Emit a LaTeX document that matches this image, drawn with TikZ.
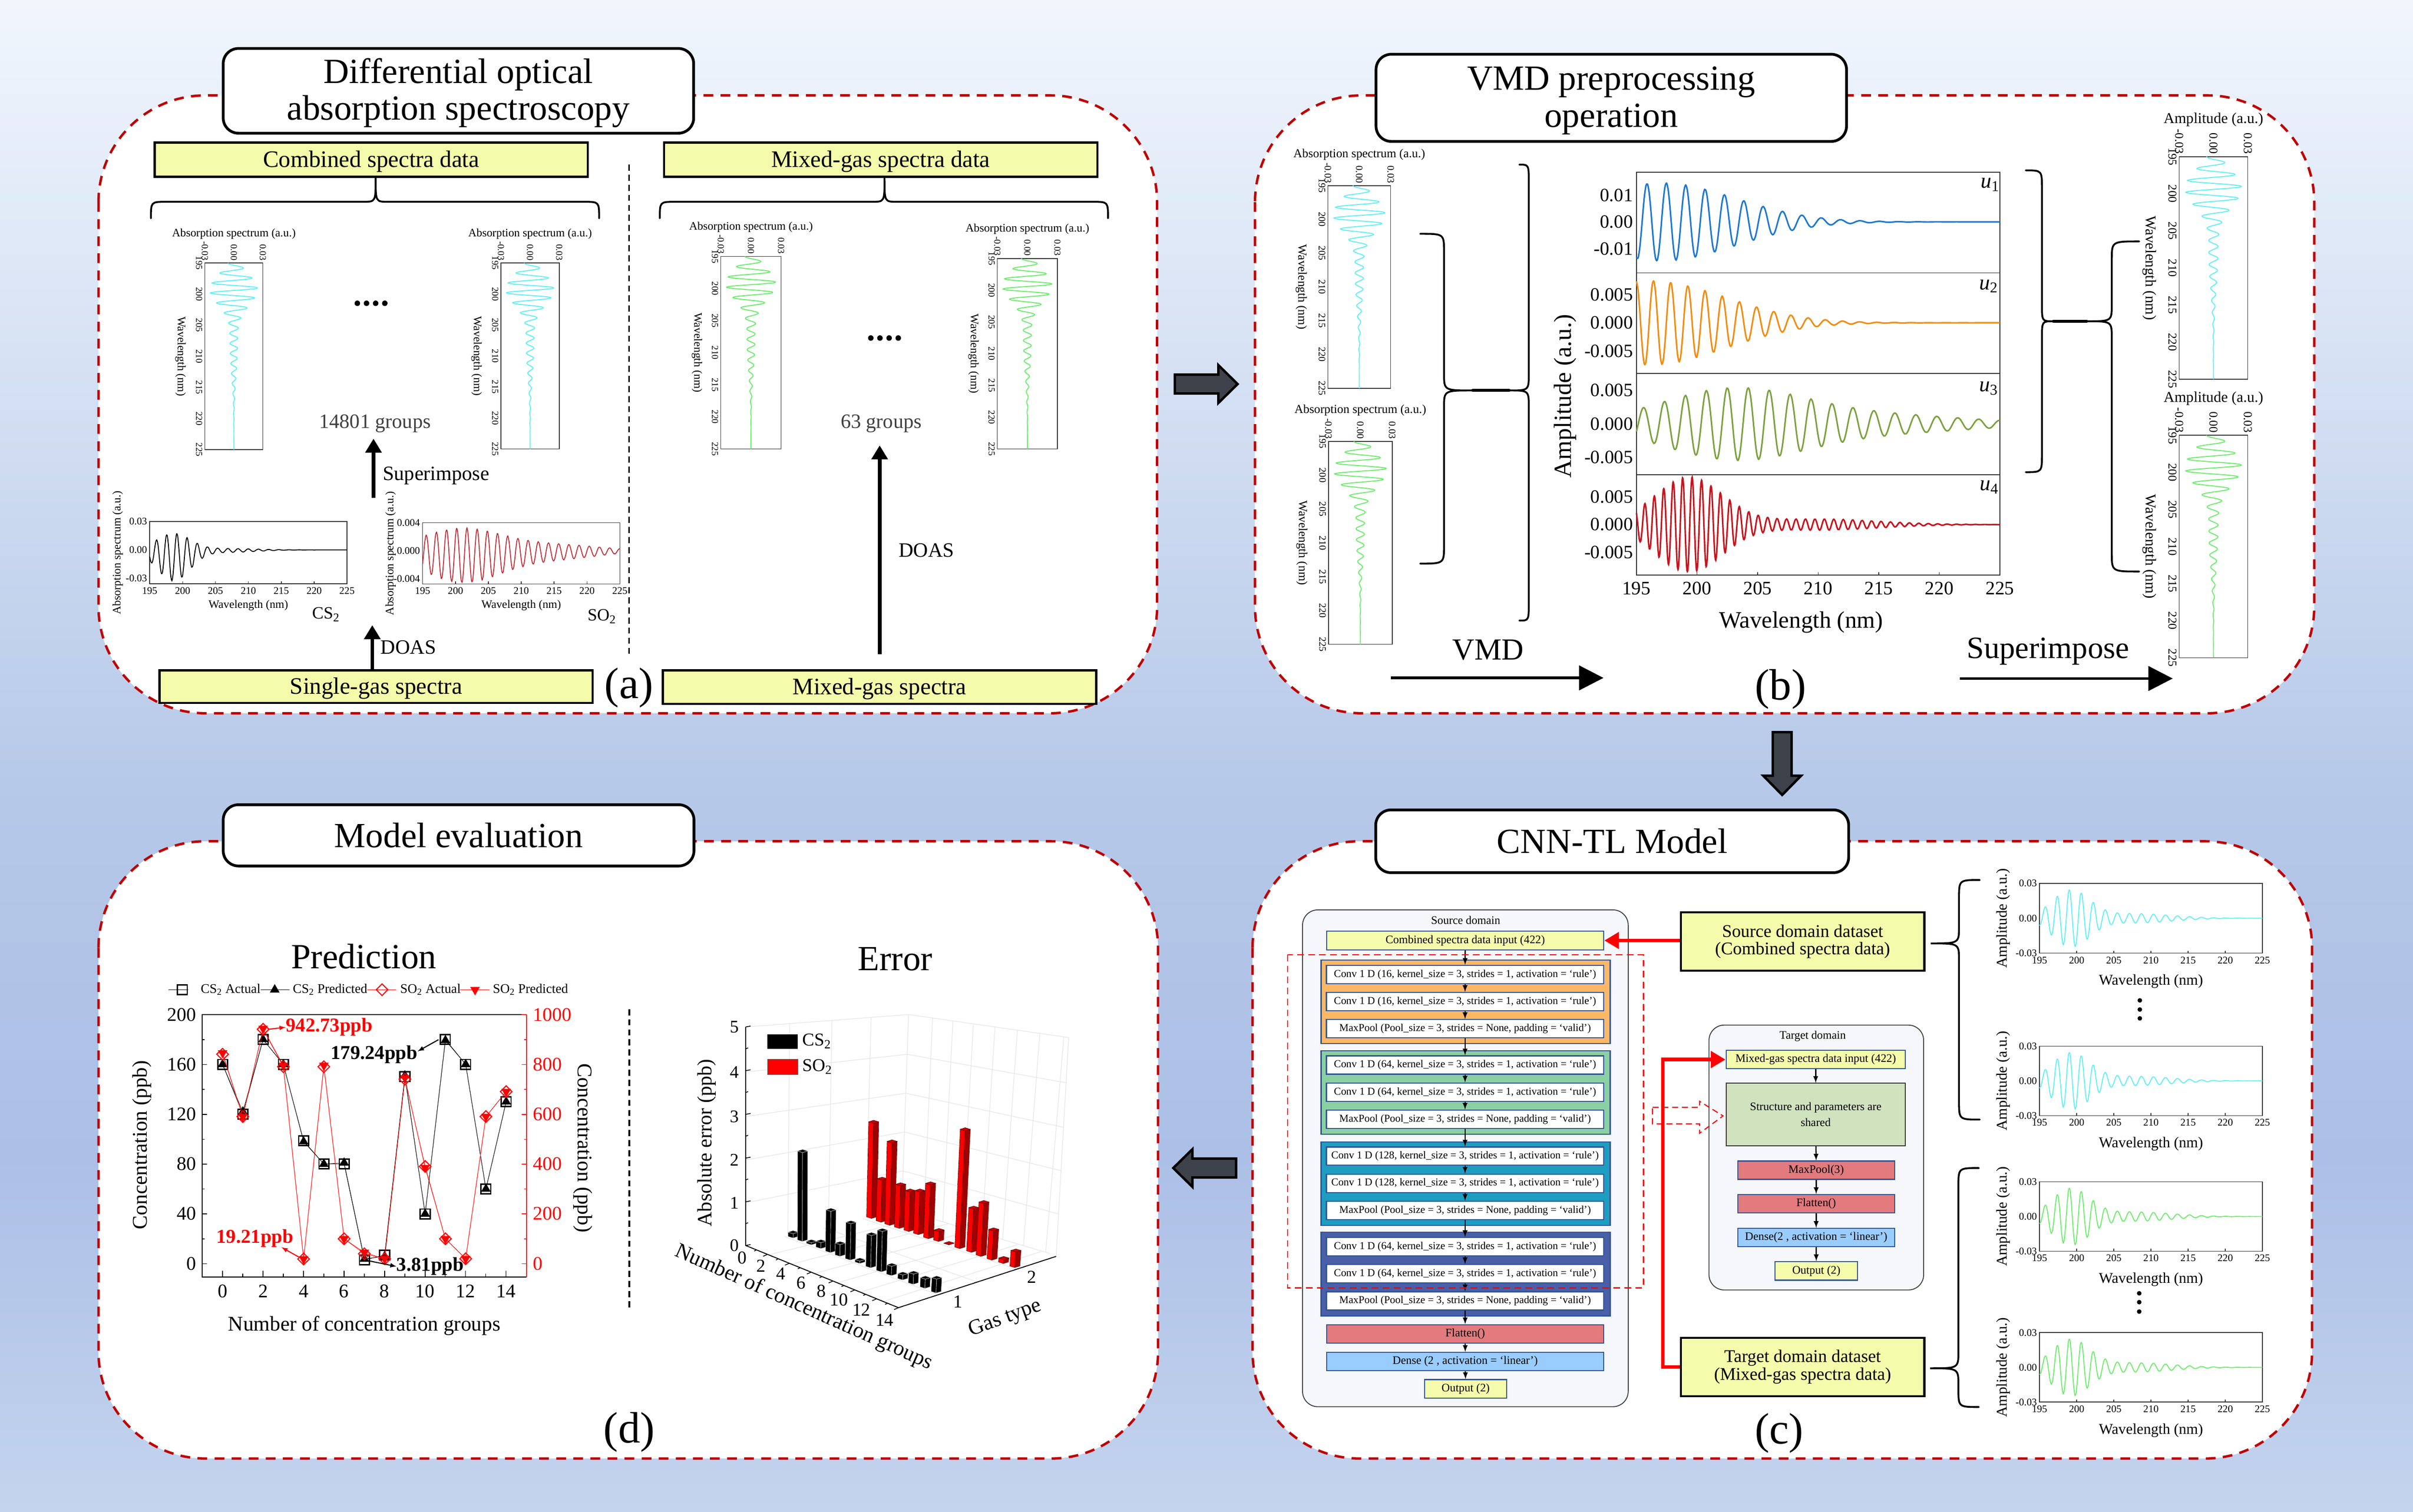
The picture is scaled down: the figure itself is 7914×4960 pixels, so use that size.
\documentclass[tikz,border=0pt]{standalone}
\usepackage{fontspec}
\setmainfont{Liberation Serif}
\usepackage{tikz}
\usetikzlibrary{calc,arrows,arrows.meta,plotmarks}

\definecolor{paneltop}{HTML}{F1F6FD}
\definecolor{panelhigh}{HTML}{B5C8E8}
\definecolor{panelmid}{HTML}{ACBFE6}
\definecolor{panellow}{HTML}{C4D4EE}
\definecolor{panelred}{HTML}{C00000}
\definecolor{blockdark}{HTML}{3E424A}
\definecolor{boxyellow}{HTML}{F4FBAA}
\definecolor{layerline}{HTML}{2F5597}
\definecolor{domainfill}{HTML}{F5F7FB}
\definecolor{blockorange}{HTML}{FDB765}
\definecolor{blockgreen}{HTML}{8BD0A0}
\definecolor{blockteal}{HTML}{1E9DC0}
\definecolor{blocknavy}{HTML}{4A5FA8}
\definecolor{layerred}{HTML}{E27A7E}
\definecolor{layerblue}{HTML}{99CCFF}
\definecolor{sharedgreen}{HTML}{D0E2BE}
\definecolor{speccyan}{HTML}{5CF0F5}
\definecolor{specgreen}{HTML}{66EE66}
\definecolor{sodark}{HTML}{C0303A}
\definecolor{modeblue}{HTML}{1F78D2}
\definecolor{modeorange}{HTML}{F28C0F}
\definecolor{modegreen}{HTML}{7BA23F}
\definecolor{modered}{HTML}{C8141E}
\definecolor{barside}{HTML}{A00000}
\definecolor{bartop}{HTML}{D00000}
\definecolor{gridgray}{HTML}{E6E6E6}

\newcommand{\fsz}[1]{\fontsize{#1}{#1}\selectfont}

\tikzset{
	declare function={
		gauss(\lam,\c,\s)=exp(-(\lam-\c)*(\lam-\c)/(\s*\s));
		spec(\lam)=(2.4*gauss(\lam,199.2,3.6)+.4*gauss(\lam,208,7))*sin(360*(\lam-198.6)/1.62);
		cstwo(\lam)=(2.5*gauss(\lam,198.6,3.6)+.2*gauss(\lam,207,6))*(sin(360*(\lam-197.2)/1.55)-.3);
		sotwo(\lam)=(2.9*gauss(\lam,201,9)+.7*gauss(\lam,216,9))*(sin(360*(\lam-199.81)/1.55)-.17);
		uone(\lam)=1.45*gauss(\lam,197,8.8)*sin(360*(\lam-195.47)/1.6);
		utwo(\lam)=.75*gauss(\lam,196,9)*sin(360*(\lam-196.05)/1.42);
		uthree(\lam)=(.52*gauss(\lam,203,8.5)+.12*gauss(\lam,216,10))*sin(360*(\lam-202.07)/1.73);
		ufour(\lam)=(.85*gauss(\lam,199.3,4)+.1*gauss(\lam,210,7))*sin(360*(\lam-199.4)/.78);
	},
	panelbox/.style={draw=panelred,fill=white,line width=.08cm,dash pattern=on .32cm off .24cm,rounded corners=3.5cm},
	titlebox/.style={draw=black,fill=white,line width=.09cm,rounded corners=.5cm,align=center,font=\fontsize{33}{34.5}\selectfont,inner sep=0},
	yellowbox/.style={draw=black,fill=boxyellow,line width=.07cm,align=center,inner sep=0,execute at begin node={\rule{0pt}{.85em}}},
	domainbox/.style={draw=black!75,fill=domainfill,line width=.03cm,rounded corners=.5cm},
	layerbox/.style={draw=layerline,fill=white,line width=.035cm,inner sep=0,font=\fsz{10.7}},
	rowbox/.style={layerbox,font=\fsz{9.85},minimum width=9.09cm,minimum height=.6cm},
	layerarrow/.style={->,>=latex,line width=.04cm},
	bigarrow/.style={-{Triangle[length=.46cm,width=.52cm]},line width=.12cm},
	vmdarrow/.style={-{Triangle[length=.8cm,width=.8cm]},line width=.09cm},
	redarrow/.style={-{Triangle[length=.48cm,width=.53cm]},draw=red,line width=.12cm},
	bracestyle/.style={line width=.06cm,line cap=round},
	specframe/.style={draw=black!80,line width=.025cm},
	speccurve/.style={line width=.03cm},
	panellabel/.style={font=\fsz{41},inner sep=0},
	midrule/.style={line width=.06cm,dash pattern=on .2cm off .13cm},
	blockshape/.style={draw=black,line width=.08cm,fill=blockdark,line join=miter},
	databk/.style={black,line width=.012cm},
	datard/.style={red,line width=.012cm},
	notebk/.style={->,>=latex,line width=.035cm,black},
	notered/.style={->,>=latex,line width=.035cm,red},
	axistick/.style={line width=.025cm},
	marksq/.style={mark=square,mark size=.16cm,mark options={line width=.045cm}},
	marktri/.style={mark=triangle*,mark size=.17cm},
	markdia/.style={mark=square,mark size=.135cm,mark options={red,rotate=45,line width=.035cm}},
	markinv/.style={mark=triangle*,mark size=.17cm,mark options={red,fill=red,rotate=180}},
}

% box given by its two corners
\newcommand{\cbox}[7]{\node[#1,minimum width={(#5-#3)*.01cm},minimum height={(#6-#4)*.01cm}] (#2) at ({(#3+#5)/2},{(#4+#6)/2}) {#7};}

% spectrum turned on its side
\newcommand{\vspec}[9]{
	\pgfmathsetmacro{\xm}{(#2+#4)/2}
	\pgfmathsetmacro{\kx}{(#4-#2)/6}
	\pgfmathsetmacro{\ky}{(#5-#3)/30}
	\pgfmathsetmacro{\tsize}{.8*#9}
	\pgfmathsetmacro{\tly}{#3-7.5*#9-16}
	\draw[specframe] (#2,#3) rectangle (#4,#5);
	\draw[speccurve,color=#6,domain=195:225,samples=170,smooth,variable=\lam] plot ({\xm+\kx*spec(\lam)},{#3+\ky*(\lam-195)});
	\node[font=\fsz{#9},inner sep=0] (#1t) at (\xm,\tly) {#7};
	\node[font=\fsz{#9},inner sep=0,rotate=-90] (#1w) at ({#2-#8},{(#3+#5)/2}) {Wavelength (nm)};
	\node[font=\fsz{\tsize},inner sep=0,rotate=-90,anchor=east] (#1a) at (#2,{#3-8}) {-0.03};
	\node[font=\fsz{\tsize},inner sep=0,rotate=-90,anchor=east] (#1b) at (\xm,{#3-8}) {0.00};
	\node[font=\fsz{\tsize},inner sep=0,rotate=-90,anchor=east] (#1c) at (#4,{#3-8}) {0.03};
	\foreach \wl [count=\i from 0] in {195,200,...,225}
		\node[font=\fsz{\tsize},inner sep=0,rotate=-90,anchor=north] (#1y\wl) at ({#2-8},{#3+\ky*5*\i}) {\wl};
}

% spectrum lying flat, \ya \yb \yc are the tick texts and \yin the gap under the lowest one
\newcommand{\hspec}[9]{
	\pgfmathsetmacro{\yl}{#5-\yin}
	\pgfmathsetmacro{\ym}{(#3+\yl)/2}
	\pgfmathsetmacro{\kv}{(\yl-#3)/6}
	\pgfmathsetmacro{\kl}{(#4-#2)/30}
	\draw[specframe] (#2,#3) rectangle (#4,#5);
	\foreach \i in {0,...,6}
		\draw[specframe] ({#2+\kl*5*\i},#5) -- ({#2+\kl*5*\i},{#5-8});
	\draw[speccurve,color=#6,domain=195:225,samples=170,smooth,variable=\lam] plot ({#2+\kl*(\lam-195)},{\ym-\kv*#7(\lam)});
	\node[font=\fsz{#9},inner sep=0] (#1w) at ({(#2+#4)/2},{#5+6.6*#9}) {Wavelength (nm)};
	\node[font=\fsz{#9},inner sep=0,rotate=90] (#1v) at ({#2-60-4.2*#9},{(#3+#5)/2}) {#8};
	\node[font=\fsz{9.5},inner sep=0,anchor=east] (#1a) at ({#2-8},#3) {\ya};
	\node[font=\fsz{9.5},inner sep=0,anchor=east] (#1b) at ({#2-8},\ym) {\yb};
	\node[font=\fsz{9.5},inner sep=0,anchor=east] (#1c) at ({#2-8},\yl) {\yc};
	\foreach \wl [count=\i from 0] in {195,200,...,225}
		\node[font=\fsz{9.5},inner sep=0] (#1x\wl) at ({#2+\kl*5*\i},{#5+23}) {\wl};
}

% x1, xtip, x2, ytip, ymid, yend
\newcommand{\hbrace}[6]{\draw[bracestyle] (#1,#6) .. controls (#1,#5) and (#1,#5) .. ({#1+50},#5) -- ({#2-40},#5) .. controls (#2,#5) and (#2,#5) .. (#2,#4) .. controls (#2,#5) and (#2,#5) .. ({#2+40},#5) -- ({#3-50},#5) .. controls (#3,#5) and (#3,#5) .. (#3,#6);}
% y1, ytip, y2, xtip, xmid, xend
\newcommand{\vbrace}[6]{\draw[bracestyle] (#6,#1) .. controls (#5,#1) and (#5,#1) .. (#5,{#1+60}) -- (#5,{#2-55}) .. controls (#5,#2) and (#5,#2) .. (#4,#2) .. controls (#5,#2) and (#5,#2) .. (#5,{#2+55}) -- (#5,{#3-60}) .. controls (#5,#3) and (#5,#3) .. (#6,#3);}

% three layers on a coloured block
\newcommand{\convblock}[4]{
	\cbox{draw=layerline,line width=.035cm,fill=#2,inner sep=0}{#1}{4333}{#3}{5281}{#3+274}{}
	\node[rowbox] (#1a) at (4805,#3+47) {Conv 1 D (#4, kernel\_size = 3, strides = 1, activation = ‘rule’)};
	\node[rowbox] (#1b) at (4805,#3+136) {Conv 1 D (#4, kernel\_size = 3, strides = 1, activation = ‘rule’)};
	\node[rowbox] (#1c) at (4805,#3+225) {MaxPool (Pool\_size = 3, strides = None, padding = ‘valid’)};
	\draw[layerarrow] (#1a) -- (#1b);
	\draw[layerarrow] (#1b) -- (#1c);
}

% fat arrow between the panels
\newcommand{\panelarrow}[3]{\draw[blockshape,shift={(#1,#2)},rotate=#3] (-103,-31) -- (40,-31) -- (40,-62) -- (103,0) -- (40,62) -- (40,31) -- (-103,31) -- cycle;}

% one bar of the 3D chart: left end, top, bottom, face, side, roof, edge
\newcommand{\errbar}[7]{
	\pgfmathsetmacro{\lean}{(#3-#2)/12000*(#1-540)}
	\pgfmathsetmacro{\xa}{#1+\lean}
	\pgfmathsetmacro{\xc}{#1+18}
	\pgfmathsetmacro{\xd}{#1+18+\lean}
	\pgfmathsetmacro{\xe}{#1+37}
	\pgfmathsetmacro{\xf}{#1+37+\lean}
	\filldraw[fill=#4,draw=#7,line width=.01cm] (#1,#3-5) -- (\xc,#3) -- (\xd,#2+10) -- (\xa,#2+5) -- cycle;
	\filldraw[fill=#5,draw=#7,line width=.01cm] (\xc,#3) -- (\xe,#3-5) -- (\xf,#2+5) -- (\xd,#2+10) -- cycle;
	\filldraw[fill=#6,draw=#7,line width=.01cm] (\xa,#2+5) -- (\xd,#2+10) -- (\xf,#2+5) -- (\xd,#2) -- cycle;
}

\begin{document}
\begin{tikzpicture}[x=.01cm,y=-.01cm]
	\useasboundingbox (0,0) rectangle (7914,4960);
	\shade[top color=paneltop,bottom color=panelhigh] (0,0) rectangle (7914,2640);
	\shade[top color=panelhigh,bottom color=panelmid] (0,2639) rectangle (7914,3800);
	\shade[top color=panelmid,bottom color=panellow] (0,3799) rectangle (7914,4960);
	
	\draw[panelbox] (323,313) rectangle (3795,2340);
	\draw[panelbox] (4116,313) rectangle (7590,2340);
	\draw[panelbox] (4108,2760) rectangle (7583,4785);
	\draw[panelbox] (323,2760) rectangle (3798,4785);
	
	\panelarrow{3956}{1260}{0}
	\panelarrow{5845}{2505}{-90}
	\panelarrow{3951}{3832}{180}
	
	\begin{scope}
		\cbox{titlebox}{titlea}{732}{159}{2275}{437}{\rule{0pt}{27pt}Differential optical\\absorption spectroscopy}
		\cbox{yellowbox,font=\fsz{22}}{combdata}{507}{468}{1928}{580}{Combined spectra data}
		\cbox{yellowbox,font=\fsz{22}}{mixdata}{2178}{468}{3599}{580}{Mixed-gas spectra data}
		\cbox{yellowbox,font=\fsz{22}}{single}{523}{2199}{1944}{2306}{Single-gas spectra}
		\cbox{yellowbox,font=\fsz{22}}{mixgas}{2174}{2199}{3595}{2309}{Mixed-gas spectra}
		
		\hbrace{495}{1232}{1965}{584}{662}{716}
		\hbrace{2164}{2901}{3634}{584}{662}{716}
		
		\vspec{pa}{672}{863}{862}{1475}{speccyan}{Absorption spectrum (a.u.)}{80}{10.7}
		\vspec{pb}{1643}{863}{1834}{1473}{speccyan}{Absorption spectrum (a.u.)}{80}{10.7}
		\vspec{pc}{2364}{841}{2562}{1473}{specgreen}{Absorption spectrum (a.u.)}{78}{10.7}
		\vspec{pd}{3271}{848}{3468}{1473}{specgreen}{Absorption spectrum (a.u.)}{78}{10.7}
		
		\foreach \x in {1172,1202,1232,1262}
			\fill (\x,995) circle (.09cm);
		\foreach \x in {2856,2886,2916,2946}
			\fill (\x,1109) circle (.09cm);
		
		\node[font=\fsz{19},text=black!75,inner sep=0] (groupsa) at (1230,1389) {14801 groups};
		\node[font=\fsz{19},text=black!75,inner sep=0] (groupsb) at (2890,1390) {63 groups};
		
		\def\yin{18}
		\def\ya{0.03}\def\yb{0.00}\def\yc{-0.03}
		\hspec{csp}{491}{1711}{1138}{1915}{black}{cstwo}{Absorption spectrum (a.u.)}{10.7}
		\def\ya{0.004}\def\yb{0.000}\def\yc{-0.004}
		\hspec{sop}{1386}{1715}{2033}{1916}{sodark}{sotwo}{Absorption spectrum (a.u.)}{10.7}
		\node[font=\fsz{16},inner sep=0] (csname) at (1069,2016) {CS\textsubscript{2}};
		\node[font=\fsz{16},inner sep=0] (soname) at (1974,2022) {SO\textsubscript{2}};
		
		\coordinate (supfoot) at (1225,1633);
		\draw[bigarrow,shorten >=.2cm] (supfoot) -- (supfoot |- groupsa.south);
		\node[font=\fsz{19},inner sep=0,anchor=west] (suptext) at (1255,1560) {Superimpose};
		\coordinate (doashead) at (1221,2051);
		\draw[bigarrow] (single.north -| doashead) -- (doashead);
		\node[font=\fsz{19},inner sep=0,anchor=west] (doasa) at (1248,2124) {DOAS};
		\coordinate (mixfoot) at (2885,2146);
		\draw[bigarrow,shorten >=.41cm] (mixfoot) -- (mixfoot |- groupsb.south);
		\node[font=\fsz{19},inner sep=0,anchor=west] (doasb) at (2947,1805) {DOAS};
		
		\draw[midrule] (2063,540) -- (2063,2154);
		\node[panellabel] (laba) at (2063,2256) {(a)};
	\end{scope}
	
	
	
	\begin{scope}
		\cbox{titlebox}{titleb}{4513}{178}{6056}{464}{\rule{0pt}{27pt}VMD preprocessing\\operation}
		
		\vspec{pe}{4355}{609}{4561}{1274}{speccyan}{Absorption spectrum (a.u.)}{87}{11.4}
		\vspec{pf}{4357}{1448}{4566}{2114}{specgreen}{Absorption spectrum (a.u.)}{87}{11.4}
		\vspec{pg}{7147}{514}{7372}{1244}{speccyan}{Amplitude (a.u.)}{97}{14}
		\vspec{ph}{7147}{1428}{7372}{2158}{specgreen}{Amplitude (a.u.)}{97}{14}
		
		\vbrace{767}{1281}{1849}{4830}{4736}{4658}
		\vbrace{540}{1281}{2036}{4950}{5014}{4983}
		\draw[bracestyle,line width=.09cm] (4830,1281) -- (4950,1281);
		\vbrace{559}{1054}{1549}{6734}{6697}{6644}
		\vbrace{792}{1054}{1875}{6844}{6926}{7016}
		\draw[bracestyle,line width=.09cm] (6734,1054) -- (6844,1054);
		
		\draw[specframe] (5367,565) rectangle (6559,1887);
		\foreach \y in {895,1225,1557}
			\draw[specframe] (5367,\y) -- (6559,\y);
		\foreach \wl [count=\i from 0] in {195,200,...,225}{
			\draw[specframe] ({5367+198.7*\i},1887) -- ({5367+198.7*\i},1877);
			\node[font=\fsz{17.8},inner sep=0] (ux\wl) at ({5367+198.7*\i},1931) {\wl};
		}
		\foreach \y/\t in {641/0.01,728/0.00,816/-0.01,967/0.005,1059/0.000,1152/-0.005,1281/0.005,1391/0.000,1501/-0.005,1630/0.005,1721/0.000,1812/-0.005}
			\node[font=\fsz{17.5},inner sep=0,anchor=east] (uy\y) at (5356,\y) {\t};
		
		\draw[speccurve,line width=.05cm,color=modeblue,domain=195:225,samples=230,smooth,variable=\lam] plot ({5367+(\lam-195)*39.73},{728-88*uone(\lam)});
		\draw[speccurve,line width=.05cm,color=modeorange,domain=195:225,samples=230,smooth,variable=\lam] plot ({5367+(\lam-195)*39.73},{1059-184*utwo(\lam)});
		\draw[speccurve,line width=.05cm,color=modegreen,domain=195:225,samples=230,smooth,variable=\lam] plot ({5367+(\lam-195)*39.73},{1391-220*uthree(\lam)});
		\draw[speccurve,line width=.05cm,color=modered,domain=195:225,samples=340,smooth,variable=\lam] plot ({5367+(\lam-195)*39.73},{1721-182*ufour(\lam)});
		
		\node[font=\fsz{20},inner sep=0] (uname1) at (6527,606) {\textit{u}\textsubscript{1}};
		\node[font=\fsz{20},inner sep=0] (uname2) at (6522,939) {\textit{u}\textsubscript{2}};
		\node[font=\fsz{20},inner sep=0] (uname3) at (6522,1274) {\textit{u}\textsubscript{3}};
		\node[font=\fsz{20},inner sep=0] (uname4) at (6524,1599) {\textit{u}\textsubscript{4}};
		\node[font=\fsz{22},inner sep=0] (uwave) at (5907,2041) {Wavelength (nm)};
		\node[font=\fsz{23},inner sep=0,rotate=90] (uamp) at (5133,1299) {Amplitude (a.u.)};
		
		\node[font=\fsz{28.5},inner sep=0] (vmdtext) at (4881,2132) {VMD};
		\node[font=\fsz{29},inner sep=0] (suptextb) at (6717,2137) {Superimpose};
		\coordinate (vmdfoot) at (4561,2224);
		\coordinate (vmdhead) at (5259,2224);
		\coordinate (supbfoot) at (6428,2226);
		\coordinate (supbhead) at (7126,2226);
		\draw[vmdarrow] (vmdfoot) -- (vmdhead);
		\draw[vmdarrow] (supbfoot) -- (supbhead);
		\node[panellabel] (labb) at (5840,2261) {(b)};
	\end{scope}
	
	
	
	\begin{scope}
		\cbox{titlebox}{titlec}{4512}{2657}{6063}{2863}{CNN-TL Model}
		
		\cbox{domainbox}{srcdomain}{4272}{2985}{5340}{4615}{}
		\node[font=\fsz{10.7},inner sep=0] (srctitle) at (4807,3019) {Source domain};
		\cbox{layerbox,fill=boxyellow}{srcinput}{4351}{3055}{5260}{3116}{Combined spectra data input (422)}
		\convblock{oblock}{blockorange}{3150}{16}
		\convblock{gblock}{blockgreen}{3447}{64}
		\convblock{tblock}{blockteal}{3746}{128}
		\convblock{nblock}{blocknavy}{4043}{64}
		\cbox{layerbox,fill=layerred}{srcflat}{4351}{4346}{5260}{4406}{Flatten()}
		\cbox{layerbox,fill=layerblue}{srcdense}{4351}{4437}{5260}{4497}{Dense (2 , activation = ‘linear’)}
		\cbox{layerbox,fill=boxyellow}{srcout}{4672}{4526}{4942}{4587}{Output (2)}
		
		\draw[layerarrow] (srcinput) -- (oblocka);
		\draw[layerarrow] (oblockc) -- (gblocka);
		\draw[layerarrow] (gblockc) -- (tblocka);
		\draw[layerarrow] (tblockc) -- (nblocka);
		\draw[layerarrow] (nblockc) -- (srcflat);
		\draw[layerarrow] (srcflat) -- (srcdense);
		\draw[layerarrow] (srcdense) -- (srcout);
		
		\draw[red,line width=.04cm,dash pattern=on .22cm off .14cm] (4223,3132) rectangle (5390,4225);
		
		\cbox{domainbox}{tgtdomain}{5605}{3363}{6309}{4232}{}
		\node[font=\fsz{10.7},inner sep=0] (tgttitle) at (5945,3400) {Target domain};
		\cbox{layerbox,fill=boxyellow}{tgtinput}{5661}{3446}{6249}{3506}{Mixed-gas spectra data input (422)}
		\cbox{draw=black!80,line width=.03cm,fill=sharedgreen,align=center,font=\fsz{10.7},inner sep=0}{tgtshared}{5661}{3554}{6249}{3759}{Structure and parameters are\\[4pt]shared}
		\cbox{layerbox,fill=layerred}{tgtpool}{5699}{3809}{6214}{3869}{MaxPool(3)}
		\cbox{layerbox,fill=layerred}{tgtflat}{5699}{3919}{6214}{3979}{Flatten()}
		\cbox{layerbox,fill=layerblue}{tgtdense}{5699}{4030}{6214}{4090}{Dense(2 , activation = ‘linear’)}
		\cbox{layerbox,fill=boxyellow}{tgtout}{5822}{4139}{6092}{4200}{Output (2)}
		
		\draw[layerarrow] (tgtinput) -- (tgtshared);
		\draw[layerarrow] (tgtshared) -- (tgtpool);
		\draw[layerarrow] (tgtpool) -- (tgtflat);
		\draw[layerarrow] (tgtflat) -- (tgtdense);
		\draw[layerarrow] (tgtdense) -- (tgtout);
		
		\cbox{yellowbox,font=\fsz{16.6}}{srcdata}{5513}{2993}{6311}{3185}{Source domain dataset\\(Combined spectra data)}
		\cbox{yellowbox,font=\fsz{16.6}}{tgtdata}{5513}{4389}{6311}{4581}{Target domain dataset\\(Mixed-gas spectra data)}
		\draw[redarrow] (srcdata.west |- srcinput) -- (srcinput.east);
		\draw[redarrow] (tgtdata.west) -- ++(-56,0) |- (tgtinput.west);
		
		\draw[red,line width=.035cm,dash pattern=on .2cm off .12cm] (5420,3633) -- (5574,3633) -- (5574,3613) -- (5651,3661) -- (5574,3718) -- (5574,3687) -- (5420,3687) -- cycle;
		
		\vbrace{2887}{3095}{3673}{6332}{6425}{6493}
		\vbrace{3832}{4489}{4616}{6330}{6423}{6490}
		
		\def\yin{0}
		\def\ya{0.03}\def\yb{0.00}\def\yc{-0.03}
		\hspec{ra}{6689}{2898}{7420}{3127}{speccyan}{spec}{Amplitude (a.u.)}{14}
		\hspec{rb}{6689}{3432}{7420}{3660}{speccyan}{spec}{Amplitude (a.u.)}{14}
		\hspec{rc}{6689}{3877}{7420}{4105}{specgreen}{spec}{Amplitude (a.u.)}{14}
		\hspec{rd}{6689}{4372}{7420}{4600}{specgreen}{spec}{Amplitude (a.u.)}{14}
		\foreach \y in {3282,3312,3341}
			\fill (7018,\y) circle (.075cm);
		\foreach \y in {4243,4272,4303}
			\fill (7016,\y) circle (.075cm);
		
		\node[panellabel] (labc) at (5835,4702) {(c)};
	\end{scope}
	
	
	
	\begin{scope}
		\cbox{titlebox}{titled}{732}{2640}{2276}{2841}{Model evaluation}
		\node[font=\fsz{33},inner sep=0] (predtitle) at (1193,3137) {Prediction};
		\node[font=\fsz{33},inner sep=0] (errtitle) at (2936,3146) {Error};
		
		% legend of the line chart
		\draw[databk] (552,3247) -- (617,3247);
		\draw[databk] (855,3247) -- (950,3247);
		\draw[datard] (1204,3247) -- (1300,3247);
		\draw[datard] (1508,3247) -- (1605,3247);
		\draw plot[marksq] coordinates {(598,3247)};
		\draw plot[marktri] coordinates {(901,3247)};
		\draw plot[markdia] coordinates {(1253,3247)};
		\draw plot[markinv] coordinates {(1558,3247)};
		\node[font=\fsz{12.3},inner sep=0,anchor=west] (legcsa) at (658,3247) {CS\textsubscript{2} Actual};
		\node[font=\fsz{12.3},inner sep=0,anchor=west] (legcsp) at (960,3247) {CS\textsubscript{2} Predicted};
		\node[font=\fsz{12.3},inner sep=0,anchor=west] (legsoa) at (1312,3247) {SO\textsubscript{2} Actual};
		\node[font=\fsz{12.3},inner sep=0,anchor=west] (legsop) at (1616,3247) {SO\textsubscript{2} Predicted};
		
		% frame of the line chart
		\draw[line width=.035cm] (1727,3329) -- (663,3329) -- (663,4189) -- (1727,4189);
		\draw[red,line width=.035cm] (1727,3329) -- (1727,4189);
		\foreach \y/\t [count=\i from 0] in {4146/0,3982/40,3819/80,3655/120,3492/160,3329/200}
			\node[font=\fsz{18},inner sep=0,anchor=east] (lefty\i) at (644,\y) {\t};
		\foreach \y/\t [count=\i from 0] in {4146/0,3982/200,3819/400,3655/600,3492/800,3329/1000}
			\node[font=\fsz{18},text=red,inner sep=0,anchor=west] (righty\i) at (1747,\y) {\t};
		\foreach \i in {0,...,10}{
			\draw[axistick] (663,{4146-81.7*\i}) -- ({663+(1-mod(\i,2)/2)*16},{4146-81.7*\i});
			\draw[axistick,red] (1727,{4146-81.7*\i}) -- ({1727-(1-mod(\i,2)/2)*16},{4146-81.7*\i});
		}
		\foreach \i in {0,...,14}
			\draw[axistick] ({730+66.4*\i},4189) -- ({730+66.4*\i},{4189-(1-mod(\i,2)/2)*20});
		\foreach \i in {0,2,...,14}
			\node[font=\fsz{18},inner sep=0] (xtick\i) at ({730+66.4*\i},4236) {\i};
		\node[font=\fsz{19.5},inner sep=0] (xname) at (1195,4350) {Number of concentration groups};
		\node[font=\fsz{19.5},inner sep=0,rotate=90] (yname) at (465,3756) {Concentration (ppb)};
		\node[font=\fsz{19.5},inner sep=0,rotate=-90] (ynameb) at (1912,3766) {Concentration (ppb)};
		
		\begin{scope}[shift={(730,4146)},x=.664cm,y=.04087cm]
			\draw[databk] plot[marksq] coordinates {(0,160)(1,120)(2,180)(3,160)(4,98.6)(5,80)(6,80)(7,3)(8,7)(9,150)(10,40)(11,180)(12,160)(13,60)(14,130)};
			\draw[databk] plot[marktri] coordinates {(0,160)(1,122)(2,180)(3,160)(4,98)(5,80)(6,81)(7,3.81)(8,6)(9,151)(10,40)(11,179.24)(12,160)(13,60)(14,130)};
		\end{scope}
		\begin{scope}[shift={(730,4146)},x=.664cm,y=.008174cm]
			\draw[datard] plot[markdia] coordinates {(0,840)(1,590)(2,940)(3,790)(4,19)(5,790)(6,100)(7,40)(8,20)(9,740)(10,390)(11,100)(12,20)(13,590)(14,690)};
			\draw[datard] plot[markinv] coordinates {(0,845)(1,590)(2,942.73)(3,795)(4,19.21)(5,795)(6,100)(7,45)(8,20)(9,745)(10,385)(11,100)(12,20)(13,590)(14,690)};
		\end{scope}
		
		\node[font=\bfseries\fsz{18.3},text=red,inner sep=0,anchor=west] (notea) at (937,3370) {942.73ppb};
		\node[font=\bfseries\fsz{18.3},inner sep=0] (noteb) at (1227,3459) {179.24ppb};
		\node[font=\bfseries\fsz{18.3},text=red,inner sep=0] (notec) at (836,4062) {19.21ppb};
		\node[font=\bfseries\fsz{18.3},inner sep=0] (noted) at (1411,4155) {3.81ppb};
		\coordinate (pointa) at (879,3377);
		\coordinate (pointb) at (1438,3411);
		\coordinate (pointc) at (980,4124);
		\coordinate (pointd) at (1208,4136);
		\draw[notered] (pointa) -- (notea.west);
		\draw[notebk] (pointb) -- ([yshift=.1cm]noteb.east);
		\draw[notered] (pointc) -- ([xshift=.87cm]notec.south);
		\draw[notebk] (pointd) -- (noted.west);
		
		\draw[midrule] (2064,3311) -- (2064,4301);
		\node[panellabel] (labd) at (2064,4699) {(d)};
	\end{scope}
	
	
	
	\begin{scope}[shift={(2100,3000)},x=.00893cm,y=-.0102cm]
		% walls and floor
		\foreach \t in {.27,.53,.77}
			\draw[gridgray,line width=.02cm] ({387+598*\t},{362-40*\t}) -- ({387+573*\t},{1065-115*\t});
		\foreach \ya/\yb in {362/322,507/450,650/575,790/700,928/825}
			\draw[gridgray,line width=.02cm] (387,\ya) -- ({985-25*(\yb-322)/628},\yb);
		\foreach \t in {.15,.277,.405,.54,.68,.82,.97}
			\draw[gridgray,line width=.02cm] ({985+588*\t},{322+74*\t}) -- ({960+545*\t},{950+141*\t});
		\foreach \yb/\xc/\yc in {322/1573/396,450/1567/542,575/1556/685,700/1548/825,825/1537/964}
			\draw[gridgray,line width=.02cm] ({985-25*(\yb-322)/628},\yb) -- (\xc,\yc);
		\draw[gridgray,line width=.02cm] (985,322) -- (960,950) -- (1505,1091);
		\draw[gridgray,line width=.02cm] (1573,396) -- (1527,1100);
		\foreach \t in {.15,.3,.45,.6,.75,.9}
			\draw[gridgray,line width=.02cm] ({387+561*\t},{1065+200*\t}) -- ({960+567*\t},{950+150*\t});
		\foreach \t in {.25,.5,.75}
			\draw[gridgray,line width=.02cm] ({387+573*\t},{1065-115*\t}) -- ({948+579*\t},{1265-165*\t});
		
		\foreach \xl/\yt/\yb in {831/662/978,866/845/990,898/725/1000,933/863/1010,968/883/1020,1003/883/1030,1040/860/1043,1077/1010/1052,1115/1052/1063,1155/686/1075,1198/938/1087,1233/920/1100,1273/1008/1112,1315/1100/1123,1357/1076/1136}
			\errbar{\xl}{\yt}{\yb}{red}{barside}{bartop}{black!70!red};
		\foreach \xl/\yt/\yb in {543/1017/1041,577/756/1052,610/1046/1063,645/1046/1075,680/945/1088,715/1052/1100,753/985/1112,788/1105/1123,828/1023/1137,867/1010/1150,904/1122/1162,945/1150/1176,984/1147/1190,1027/1163/1203,1068/1163/1218}
			\errbar{\xl}{\yt}{\yb}{black}{black}{black}{white!80!black};
		
		% axes
		\draw[line width=.03cm] (387,362) -- (387,1065) -- (948,1265) -- (1527,1100);
		\foreach \i in {0,...,10}
			\draw[axistick] (387,{362+70.3*\i}) -- ({387+(1-mod(\i,2)/2)*18},{362+70.3*\i-3});
		\foreach \i in {1,...,14}
			\draw[axistick] ({387+40.07*\i},{1065+14.29*\i}) -- ({387+40.07*\i-2-(1-mod(\i,2)/2)*14},{1065+14.29*\i+(1-mod(\i,2)/2)*5+1});
		\foreach \y/\t in {362/5,507/4,650/3,790/2,928/1,1065/0}
			\node[font=\fsz{16.5},inner sep=0] (ztick\t) at (345,\y) {\t};
		\foreach \t/\x/\y in {0/375/1105,2/443/1130,4/516/1155,6/590/1185,8/665/1212,10/730/1240,12/812/1272,14/897/1305}
			\node[font=\fsz{17},inner sep=0] (gtick\t) at (\x,\y) {\t};
		\node[font=\fsz{17},inner sep=0] (gastick1) at (1167,1245) {1};
		\node[font=\fsz{17},inner sep=0] (gastick2) at (1438,1167) {2};
		\node[font=\fsz{20},inner sep=0,rotate=-24] (barx) at (600,1265) {Number of concentration groups};
		\node[font=\fsz{20},inner sep=0,rotate=20] (bary) at (1340,1300) {Gas type};
		\node[font=\fsz{19},inner sep=0,rotate=90] (barz) at (243,735) {Absolute error (ppb)};
		
		\fill[black] (467,386) rectangle (578,433);
		\filldraw[fill=red,draw=black!60,line width=.01cm] (467,466) rectangle (578,515);
		\node[font=\fsz{16.8},inner sep=0,anchor=west] (barcs) at (594,408) {CS\textsubscript{2}};
		\node[font=\fsz{16.8},inner sep=0,anchor=west] (barso) at (594,490) {SO\textsubscript{2}};
	\end{scope}
\end{tikzpicture}
\end{document}
